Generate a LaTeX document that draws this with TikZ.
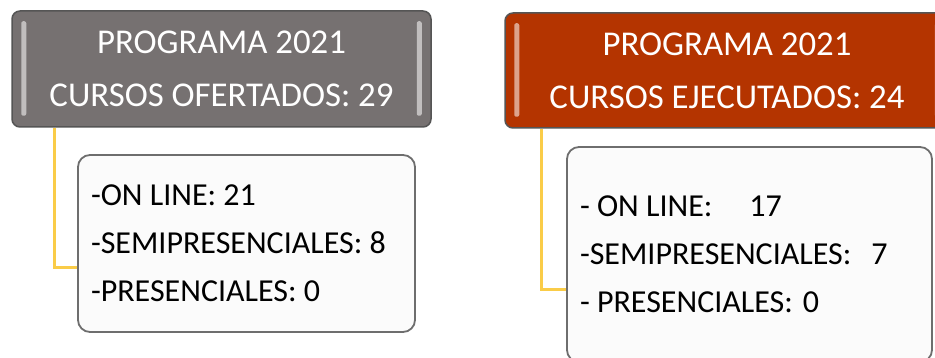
\documentclass[tikz,border=0pt]{standalone}
\usepackage{fontspec}
\setmainfont{Carlito}
\usepackage{xcolor}
\usepackage{tikz}
\usetikzlibrary{positioning, calc}
\frenchspacing
\definecolor{offergray}{RGB}{118, 113, 113}
\definecolor{execorange}{RGB}{180, 52, 0}
\definecolor{boxborder}{RGB}{85, 85, 85}
\definecolor{listborder}{RGB}{110, 110, 110}
\definecolor{listfill}{RGB}{251, 251, 251}
\definecolor{linkyellow}{RGB}{250, 204, 72}

\begin{document}
\begin{tikzpicture}[
        x=1pt, y=-1pt,
        every node/.style={execute at begin node={\spaceskip=0pt\xspaceskip=0pt}},
        headbox/.style={rectangle, rounded corners=8pt, draw=boxborder, line width=1.5pt, text=white, align=center, inner sep=0pt, font=\fontsize{34.8}{53}\selectfont},
        listbox/.style={rectangle, rounded corners=12pt, draw=listborder, fill=listfill, line width=1.8pt, align=left, inner xsep=13pt, inner ysep=0pt, font=\fontsize{32}{48}\selectfont},
        bevel/.style={white, opacity=0.55, rounded corners=2pt},
        link/.style={linkyellow, line width=3pt}
    ]
        \clip (0,0) rectangle (935,358);
        \useasboundingbox (0,0) rectangle (935,358);

        % Header boxes
        \node (offered) [headbox, fill=offergray, minimum width=419pt, minimum height=116pt] at (221.5,69) {PROGRAMA 2021\\CURSOS OFERTADOS: 29};
        \node (executed) [headbox, fill=execorange, minimum width=444pt, minimum height=115pt] at (727,70.5) {PROGRAMA 2021\\CURSOS EJECUTADOS: 24};

        % Bevel highlights
        \foreach \n in {offered, executed} {
            \fill [bevel] ([xshift=10pt,yshift=-11pt]\n.north west) rectangle ([xshift=15pt,yshift=12pt]\n.south west);
            \fill [bevel] ([xshift=-15pt,yshift=-11pt]\n.north east) rectangle ([xshift=-10pt,yshift=12pt]\n.south east);
        }

        % List boxes
        \node (offeredlist) [listbox, text width=311pt, minimum height=177pt] at (246.5,243.5) {-ON LINE: 21\\-SEMIPRESENCIALES: 8\\-PRESENCIALES: 0};
        \node (executedlist) [listbox, text width=339pt, minimum height=215pt] at (749.5,254.5) {- ON LINE:\hspace{37pt}17\\-SEMIPRESENCIALES:\hspace{20pt}7\\- PRESENCIALES:\hspace{10pt}0};

        % Links
        \draw [link] ([xshift=43pt]offered.south west) |- ([yshift=-24.5pt]offeredlist.west);
        \draw [link] ([xshift=37pt]executed.south west) |- ([yshift=-35.5pt]executedlist.west);
    \end{tikzpicture}
\end{document}
